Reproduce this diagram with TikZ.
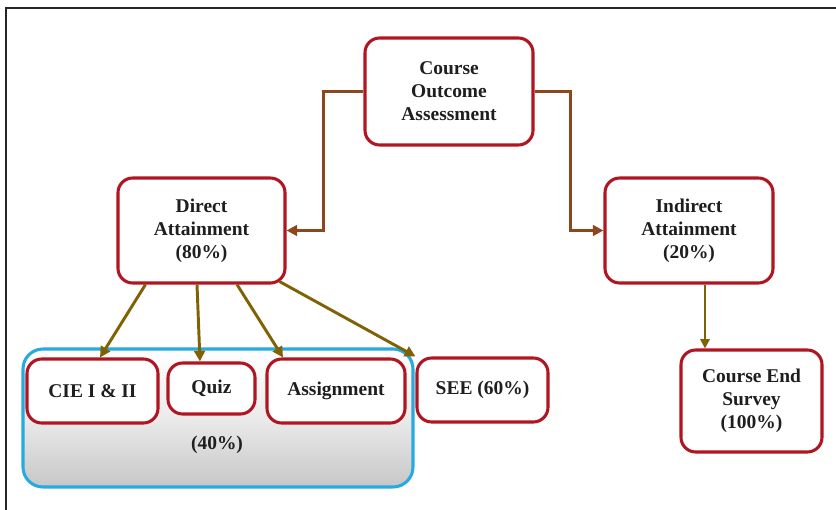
\documentclass[tikz,border=0pt]{standalone}
\usepackage{fontspec}
\setmainfont{Liberation Serif}
\usetikzlibrary{arrows.meta,calc}
\definecolor{boxred}{RGB}{176,22,34}
\definecolor{linkbrown}{RGB}{140,72,28}
\definecolor{linkolive}{RGB}{127,98,4}
\definecolor{groupblue}{RGB}{38,170,224}
\definecolor{inktext}{RGB}{30,30,30}
\begin{document}
\begin{tikzpicture}[x=0.75pt,y=-0.75pt,
  box/.style={draw=boxred,line width=2.3pt,rounded corners=11pt,fill=white,
    align=center,inner sep=0pt,text=inktext,
    font=\fontsize{14.6}{17.2}\selectfont\bfseries},
  group/.style={draw=groupblue,line width=2.3pt,rounded corners=15pt,
    top color=white,bottom color=black!22,middle color=white!92!black,
    inner sep=0pt},
  toplink/.style={draw=linkbrown,line width=2.2pt,
    -{Triangle[length=8pt,width=8pt]}},
  sublink/.style={draw=linkolive,line width=2.2pt,
    -{Triangle[length=8pt,width=8pt]}},
  thinlink/.style={draw=linkolive,line width=1.5pt,
    -{Triangle[length=7pt,width=7pt]}},
  lbl/.style={text=inktext,font=\fontsize{14.6}{17.2}\selectfont\bfseries}
]
\useasboundingbox (0,0) rectangle (836,510);
% outer frame
\draw[line width=1.9pt,black!85] (6,512) -- (6,8) -- (838,8);

% grouped internal components
\node[group,minimum width=390*0.75pt,minimum height=138*0.75pt] (grp) at (218,418) {};
\node[lbl] (share) at (217,445) {(40\%)};

% nodes
\node[box,minimum width=168*0.75pt,minimum height=107*0.75pt] (coa) at (449,91.5)
  {Course\\Outcome\\Assessment};
\node[box,minimum width=167*0.75pt,minimum height=105*0.75pt] (direct) at (201.5,230.5)
  {Direct\\Attainment\\(80\%)};
\node[box,minimum width=168*0.75pt,minimum height=105*0.75pt] (indirect) at (689,230.5)
  {Indirect\\Attainment\\(20\%)};
\node[box,minimum width=131*0.75pt,minimum height=64*0.75pt] (cie) at (92.5,391)
  {CIE I \& II};
\node[box,minimum width=87*0.75pt,minimum height=51*0.75pt] (quiz) at (211.5,388.5)
  {Quiz};
\node[box,minimum width=138*0.75pt,minimum height=64*0.75pt] (assign) at (336,391)
  {Assignment};
\node[box,minimum width=131*0.75pt,minimum height=64*0.75pt] (see) at (482.5,390)
  {SEE (60\%)};
\node[box,minimum width=141*0.75pt,minimum height=102*0.75pt] (ces) at (751.5,401)
  {Course End\\Survey\\(100\%)};

% connectors from the top node
\draw[toplink] (coa.west) -- ++(-40,0) |- (direct.east);
\draw[toplink] (coa.east) -- ++(36,0) |- (indirect.west);

% direct attainment components
\draw[sublink] ($(direct.south)+(-56,0)$) -- ($(cie.north)+(7.5,0)$);
\draw[sublink] ($(direct.south)+(-4.5,0)$) -- ($(quiz.north)+(-11.5,0)$);
\draw[sublink] ($(direct.south)+(35.5,0)$) -- ($(assign.north)+(-53,0)$);
\draw[sublink] ($(direct.south east)+(-7,-3)$) -- (see.north west);

% indirect attainment component
\draw[thinlink] ($(indirect.south)+(16,0)$) -- ($(ces.north)+(-46.5,0)$);
\end{tikzpicture}
\end{document}
